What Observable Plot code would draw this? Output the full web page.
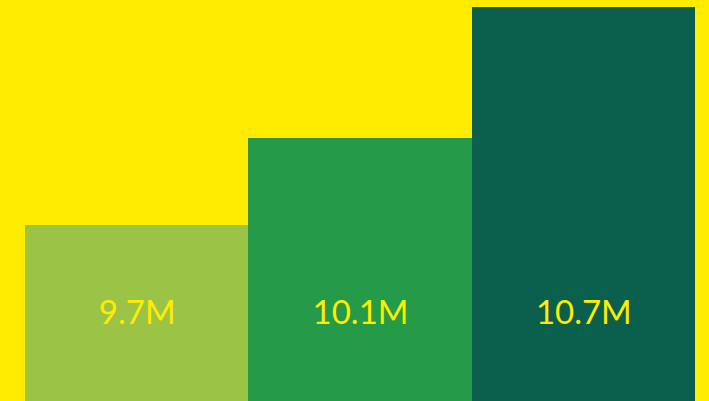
<!DOCTYPE html>
<html>
<head>
<meta charset="utf-8">
<script src="https://cdn.jsdelivr.net/npm/d3@7"></script>
<script src="https://cdn.jsdelivr.net/npm/@observablehq/plot@0.6"></script>
<style>
  html, body { margin: 0; padding: 0; background: #FFEC00; overflow: hidden; }
  #chart svg { display: block; }
</style>
</head>
<body>
<div id="chart"></div>
<script>
const categories = ["A", "B", "C"];
const values = [9.7, 10.1, 10.7];
const labels = ["9.7M", "10.1M", "10.7M"];
const colors = ["#9BC446", "#259A48", "#0A604D"];

const yMin = 8.893;
const yMax = 10.732;

const data = categories.map((c, i) => ({cat: c, value: values[i], label: labels[i]}));
const labelY = yMin + (d3.min(values) - yMin) / 2;

const chart = Plot.plot({
  width: 709,
  height: 401,
  marginLeft: 25,
  marginRight: 14,
  marginTop: 0,
  marginBottom: 0,
  style: {background: "#FFEC00", fontFamily: "Lato, 'Open Sans', sans-serif"},
  x: {domain: categories, padding: 0, round: false, axis: null},
  y: {domain: [yMin, yMax], axis: null},
  color: {domain: categories, range: colors},
  marks: [
    Plot.barY(data, {x: "cat", y1: yMin, y2: "value", fill: "cat", inset: 0, shapeRendering: "crispEdges"}),
    Plot.text(data, {x: "cat", y: labelY, text: "label", fill: "#FFEC00", fontSize: 33, fontWeight: 400})
  ]
});
document.getElementById("chart").appendChild(chart);
</script>
</body>
</html>
